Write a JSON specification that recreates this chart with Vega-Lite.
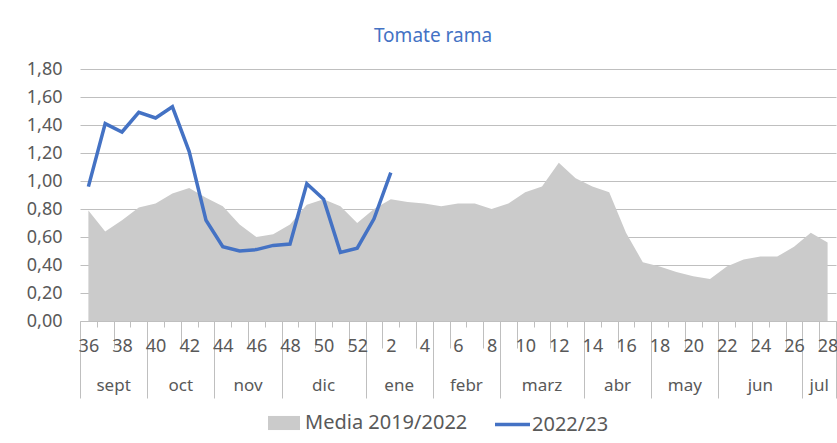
{
  "$schema": "https://vega.github.io/schema/vega-lite/v6.json",
  "autosize": {"type": "none"},
  "width": 756,
  "height": 252,
  "padding": {"left": 80, "top": 69, "right": 1, "bottom": 122},
  "background": "white",
  "title": {"text": "Tomate rama", "color": "#4472c4", "font": "Noto Sans", "fontSize": 19, "fontWeight": "normal", "anchor": "middle", "frame": "group", "dx": -25, "baseline": "middle", "offset": 5},
  "config": {"view": {"stroke": null}, "font": "Noto Sans"},
  "data": {"values": [
    {"week": "36", "media": 0.79, "cur": 0.96},
    {"week": "37", "media": 0.64, "cur": 1.41},
    {"week": "38", "media": 0.72, "cur": 1.35},
    {"week": "39", "media": 0.81, "cur": 1.49},
    {"week": "40", "media": 0.84, "cur": 1.45},
    {"week": "41", "media": 0.91, "cur": 1.53},
    {"week": "42", "media": 0.95, "cur": 1.21},
    {"week": "43", "media": 0.88, "cur": 0.72},
    {"week": "44", "media": 0.82, "cur": 0.53},
    {"week": "45", "media": 0.69, "cur": 0.50},
    {"week": "46", "media": 0.60, "cur": 0.51},
    {"week": "47", "media": 0.62, "cur": 0.54},
    {"week": "48", "media": 0.69, "cur": 0.55},
    {"week": "49", "media": 0.83, "cur": 0.98},
    {"week": "50", "media": 0.87, "cur": 0.87},
    {"week": "51", "media": 0.82, "cur": 0.49},
    {"week": "52", "media": 0.70, "cur": 0.52},
    {"week": "1", "media": 0.80, "cur": 0.73},
    {"week": "2", "media": 0.87, "cur": 1.06},
    {"week": "3", "media": 0.85, "cur": null},
    {"week": "4", "media": 0.84, "cur": null},
    {"week": "5", "media": 0.82, "cur": null},
    {"week": "6", "media": 0.84, "cur": null},
    {"week": "7", "media": 0.84, "cur": null},
    {"week": "8", "media": 0.80, "cur": null},
    {"week": "9", "media": 0.84, "cur": null},
    {"week": "10", "media": 0.92, "cur": null},
    {"week": "11", "media": 0.96, "cur": null},
    {"week": "12", "media": 1.13, "cur": null},
    {"week": "13", "media": 1.02, "cur": null},
    {"week": "14", "media": 0.96, "cur": null},
    {"week": "15", "media": 0.92, "cur": null},
    {"week": "16", "media": 0.63, "cur": null},
    {"week": "17", "media": 0.42, "cur": null},
    {"week": "18", "media": 0.39, "cur": null},
    {"week": "19", "media": 0.35, "cur": null},
    {"week": "20", "media": 0.32, "cur": null},
    {"week": "21", "media": 0.30, "cur": null},
    {"week": "22", "media": 0.39, "cur": null},
    {"week": "23", "media": 0.44, "cur": null},
    {"week": "24", "media": 0.46, "cur": null},
    {"week": "25", "media": 0.46, "cur": null},
    {"week": "26", "media": 0.53, "cur": null},
    {"week": "27", "media": 0.63, "cur": null},
    {"week": "28", "media": 0.56, "cur": null}
  ]},
  "resolve": {"axis": {"x": "independent"}},
  "layer": [
    {
      "mark": {"type": "area", "opacity": 1},
      "encoding": {
        "x": {
          "field": "week", "type": "ordinal", "sort": null, "bandPosition": 0.5,
          "scale": {"type": "band", "paddingInner": 0, "paddingOuter": 0},
          "axis": {
            "orient": "bottom", "title": null, "labelAngle": 0, "labelOverlap": false,
            "labelFont": "Noto Sans", "labelFontSize": 18, "labelColor": "#595959",
            "labelExpr": "datum.value % 2 == 0 ? datum.label : ''",
            "tickBand": "extent", "tickColor": "#bfbfbf", "tickWidth": 1,
            "domainColor": "#bfbfbf", "domainWidth": 1,
            "tickSize": {"condition": [
              {"test": "datum.extra || indexof(['39','43','47','52','4','8','13','17','21','26','28'], datum.value) >= 0", "value": 77},
              {"test": "datum.value % 2 == 1", "value": 27}
            ], "value": 6},
            "labelPadding": {"condition": {"test": "indexof(['52','4','8','26','28'], datum.value) >= 0", "value": -61}, "value": 10}
          }
        },
        "y": {
          "field": "media", "type": "quantitative",
          "scale": {"domain": [0, 1.8], "nice": false},
          "axis": {
            "title": null, "values": [0, 0.2, 0.4, 0.6, 0.8, 1.0, 1.2, 1.4, 1.6, 1.8],
            "labelExpr": "replace(format(datum.value, '.2f'), '.', ',')",
            "ticks": false, "domain": false, "gridColor": "#bfbfbf", "gridWidth": 1,
            "labelFont": "Noto Sans", "labelFontSize": 18, "labelColor": "#595959", "labelPadding": 18
          }
        },
        "fill": {
          "datum": "Media 2019/2022",
          "scale": {"range": ["#cbcbcb"]},
          "legend": {
            "orient": "none", "legendX": 188, "legendY": 338, "title": null, "padding": 0,
            "symbolType": "M-1,-0.44H1V0.44H-1Z", "symbolSize": 1024, "symbolStrokeWidth": 0,
            "symbolOpacity": 1, "labelLimit": 400,
            "labelFont": "Noto Sans", "labelFontSize": 20, "labelColor": "#595959", "labelOffset": 5
          }
        }
      }
    },
    {
      "mark": {"type": "line", "strokeWidth": 3.5},
      "encoding": {
        "x": {
          "field": "week", "type": "ordinal", "sort": null, "bandPosition": 0.5,
          "scale": {"type": "band", "paddingInner": 0, "paddingOuter": 0},
          "axis": {
            "orient": "bottom", "title": null, "labelAngle": 0, "labelOverlap": false,
            "ticks": false, "tickSize": 0, "domain": false, "grid": false,
            "labelFont": "Noto Sans", "labelFontSize": 17, "labelColor": "#595959",
            "labelExpr": "indexof(['37','41','45','50','2','6','11','15','19','24','27'], datum.value) >= 0 ? ['sept','oct','nov','dic','ene','febr','marz','abr','may','jun','jul'][indexof(['37','41','45','50','2','6','11','15','19','24','27'], datum.value)] : ''",
            "labelOffset": {"condition": {"test": "indexof(['50','11','24'], datum.value) >= 0", "value": 0}, "value": 8.4},
            "labelPadding": 56
          }
        },
        "y": {
          "field": "cur", "type": "quantitative",
          "scale": {"domain": [0, 1.8], "nice": false},
          "axis": {
            "title": null, "values": [0, 0.2, 0.4, 0.6, 0.8, 1.0, 1.2, 1.4, 1.6, 1.8],
            "labelExpr": "replace(format(datum.value, '.2f'), '.', ',')",
            "ticks": false, "domain": false, "gridColor": "#bfbfbf", "gridWidth": 1,
            "labelFont": "Noto Sans", "labelFontSize": 18, "labelColor": "#595959", "labelPadding": 18
          }
        },
        "stroke": {
          "datum": "2022/23",
          "scale": {"range": ["#4472c4"]},
          "legend": {
            "orient": "none", "legendX": 413, "legendY": 336, "title": null, "padding": 0,
            "symbolType": "stroke", "symbolSize": 1225, "symbolStrokeWidth": 3.5, "labelLimit": 400,
            "labelFont": "Noto Sans", "labelFontSize": 20, "labelColor": "#595959", "labelOffset": 0
          }
        }
      }
    }
  ]
}
